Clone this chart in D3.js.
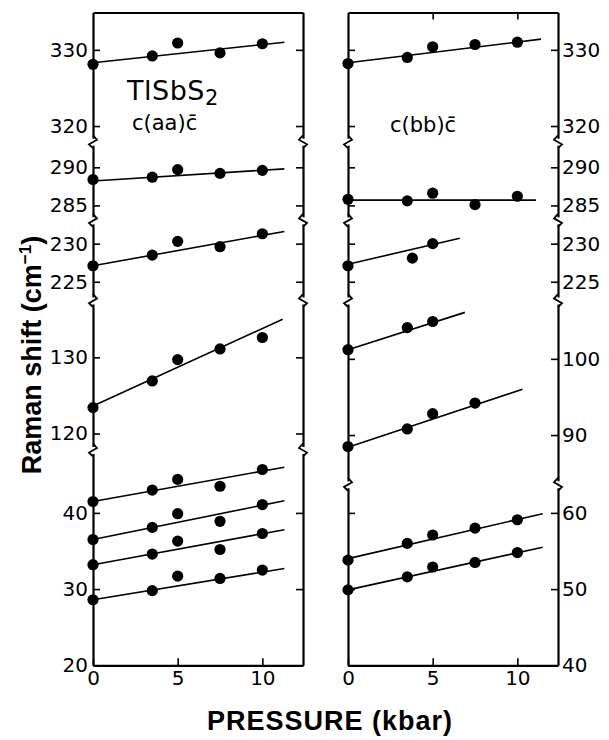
<!DOCTYPE html>
<html>
<head>
<meta charset="utf-8">
<script src="https://cdn.jsdelivr.net/npm/d3@7"></script>
<style>
  body { margin: 0; background: #fff; }
</style>
</head>
<body>
<div id="viz"></div>
<script>
// pressures (kbar) of the measured spectra
var pressures = [0, 3.5, 5, 7.5, 10]

// broken y axis: pieces from top to bottom (cm-1)
var aaSegments = [[318.4, 334.9], [283.5, 292.9], [223.0, 232.6], [118.3, 137.0], [20, 47.8]]
var bbSegments = [[318.4, 334.9], [283.5, 292.9], [223.0, 232.6], [84.0, 107.2], [40, 63.3]]
var aaTicks = [[330, 320], [290, 285], [230, 225], [130, 120], [40, 30, 20]]
var bbTicks = [[330, 320], [290, 285], [230, 225], [100, 90], [60, 50, 40]]
var xTicks = [0, 5, 10]

// c(aa)c modes: which axis piece, measured shifts, fit [start, end, end pressure]
var aaPiece = [0, 1, 2, 3, 4, 4, 4, 4]
var aaShift = [
  [328.1, 329.2, 330.9, 329.6, 330.8],
  [288.4, 288.7, 289.7, 289.2, 289.6],
  [227.1, 228.5, 230.3, 229.6, 231.3],
  [123.4, 126.9, 129.7, 131.1, 132.6],
  [41.5, 43.0, 44.4, 43.5, 45.7],
  [36.5, 38.1, 39.9, 38.9, 41.1],
  [33.2, 34.6, 36.3, 35.2, 37.3],
  [28.6, 29.8, 31.7, 31.4, 32.5]
]
var aaFit = [
  [328.3, 331.0, 11.3],
  [288.2, 289.8, 11.3],
  [227.1, 231.6, 11.3],
  [123.6, 135.0, 11.2],
  [41.5, 46.0, 11.3],
  [36.5, 41.6, 11.3],
  [33.2, 37.8, 11.3],
  [28.6, 32.7, 11.3]
]

// c(bb)c modes
var bbPiece = [0, 1, 2, 3, 3, 4, 4]
var bbPressure = [
  [0, 3.5, 5, 7.5, 10],
  [0, 3.5, 5, 7.5, 10],
  [0, 3.8, 5],
  [0, 3.5, 5],
  [0, 3.5, 5, 7.5],
  [0, 3.5, 5, 7.5, 10],
  [0, 3.5, 5, 7.5, 10]
]
var bbShift = [
  [328.2, 329.0, 330.4, 330.7, 331.0],
  [285.8, 285.6, 286.6, 285.1, 286.2],
  [227.1, 228.1, 230.0],
  [101.2, 104.1, 104.9],
  [88.5, 90.8, 92.8, 94.2],
  [53.8, 56.0, 57.1, 58.0, 59.1],
  [49.9, 51.6, 52.9, 53.5, 54.8]
]
var bbFit = [
  [328.3, 331.4, 11.4],
  [285.7, 285.7, 11.1],
  [227.3, 230.7, 6.6],
  [101.2, 106.1, 6.9],
  [88.4, 96.0, 10.3],
  [54.0, 59.9, 11.5],
  [49.9, 55.5, 11.5]
]

var W = 609, H = 740
var plotTop = 12.5, plotBottom = 665.3, gap = 7, panelW = 210
var tickFont = "DejaVu Sans"

var svg = d3.select("#viz")
  .append("svg")
  .attr("width", W)
  .attr("height", H)

// stack the axis pieces with one px-per-unit for the whole column
function makePieces (segments) {
  var units = d3.sum(segments, function (s) { return s[1] - s[0] })
  var k = (plotBottom - plotTop - gap * (segments.length - 1)) / units
  var y0 = plotTop
  return segments.map(function (s) {
    var h = (s[1] - s[0]) * k
    var sc = d3.scaleLinear().domain(s).range([y0 + h, y0])
    y0 += h + gap
    return sc
  })
}

function styleAxis (g) {
  g.attr("font-family", tickFont).attr("font-size", 20)
  g.select(".domain").attr("stroke-width", 2.2)
  g.selectAll(".tick line").attr("stroke-width", 1.6)
  g.selectAll(".tick text").attr("fill", "#000")
}

// little zigzag where the axis is broken
function drawBreak (g, x, ya, yb, dir) {
  var h = yb - ya + 6
  var start = ya - 3
  g.append("path")
    .attr("d", d3.line()([[x, start], [x + 4 * dir, start + h * 0.35], [x - 4 * dir, start + h * 0.7], [x, start + h]]))
    .attr("fill", "none")
    .attr("stroke", "#000")
    .attr("stroke-width", 1.8)
}

function drawPanel (x0, segments, ticks, labelSide, topTicks, piece, press, shift, fit) {
  var xScale = d3.scaleLinear().domain([0, 12.4]).range([x0, x0 + panelW])
  var pieces = makePieces(segments)
  var g = svg.append("g")

  for (var i = 0; i < pieces.length; i++) {
    g.append("g")
      .attr("transform", "translate(" + x0 + ",0)")
      .call(d3.axisLeft(pieces[i]).tickValues(ticks[i]).tickSizeInner(-7).tickSizeOuter(0).tickPadding(5)
        .tickFormat(labelSide == "left" ? d3.format("d") : function () { return "" }))
      .call(styleAxis)
    g.append("g")
      .attr("transform", "translate(" + (x0 + panelW) + ",0)")
      .call(d3.axisRight(pieces[i]).tickValues(ticks[i]).tickSizeInner(-7).tickSizeOuter(0).tickPadding(4)
        .tickFormat(labelSide == "right" ? d3.format("d") : function () { return "" }))
      .call(styleAxis)
    if (i > 0) {
      var ya = pieces[i - 1].range()[0], yb = pieces[i].range()[1]
      drawBreak(g, x0, ya, yb, 1)
      drawBreak(g, x0 + panelW, ya, yb, -1)
    }
  }

  g.append("g")
    .attr("transform", "translate(0," + plotTop + ")")
    .call(d3.axisTop(xScale).tickValues(topTicks).tickSizeInner(-7).tickSizeOuter(0).tickFormat(""))
    .call(styleAxis)

  g.append("g")
    .attr("transform", "translate(0," + plotBottom + ")")
    .call(d3.axisBottom(xScale).tickValues(xTicks).tickSizeInner(-7).tickSizeOuter(0).tickPadding(6))
    .call(styleAxis)

  // fitted lines
  fit.forEach(function (f, j) {
    var sc = pieces[piece[j]]
    g.append("line")
      .attr("x1", xScale(0)).attr("y1", sc(f[0]))
      .attr("x2", xScale(f[2])).attr("y2", sc(f[1]))
      .attr("stroke", "#000")
      .attr("stroke-width", 1.6)
  })

  // measured points
  shift.forEach(function (row, j) {
    var sc = pieces[piece[j]]
    var px = press ? press[j] : pressures
    g.selectAll(null)
      .data(row)
      .enter()
      .append("circle")
      .attr("cx", function (d, n) { return xScale(px[n]) })
      .attr("cy", function (d) { return sc(d) })
      .attr("r", 5.6)
      .attr("fill", "#000")
  })
  return g
}

drawPanel(93, aaSegments, aaTicks, "left", [], aaPiece, null, aaShift, aaFit)
drawPanel(348, bbSegments, bbTicks, "right", [5, 10], bbPiece, bbPressure, bbShift, bbFit)

// panel labels
var title = svg.append("text")
  .attr("x", 127)
  .attr("y", 100)
  .style("font", "27px 'DejaVu Sans'")
  .attr("letter-spacing", 0.5)
title.append("tspan").text("TlSbS")
title.append("tspan").attr("font-size", 21).attr("dy", 5).text("2")

svg.append("text")
  .attr("x", 132)
  .attr("y", 130)
  .style("font", "21px 'DejaVu Sans'")
  .text("c(aa)c\u0304")

svg.append("text")
  .attr("x", 390)
  .attr("y", 132)
  .style("font", "21px 'DejaVu Sans'")
  .text("c(bb)c\u0304")

// axis titles
var ytitle = svg.append("text")
  .attr("transform", "translate(41,355) rotate(-90)")
  .attr("text-anchor", "middle")
  .style("font", "bold 27px 'Liberation Sans'")
ytitle.append("tspan").text("Raman  shift (cm")
ytitle.append("tspan").attr("font-size", 17).attr("dy", -10).text("\u22121")
ytitle.append("tspan").attr("dy", 10).text(")")

svg.append("text")
  .attr("x", 330)
  .attr("y", 730)
  .attr("text-anchor", "middle")
  .attr("letter-spacing", 1)
  .style("font", "bold 27px 'Liberation Sans'")
  .text("PRESSURE (kbar)")
</script>
</body>
</html>
